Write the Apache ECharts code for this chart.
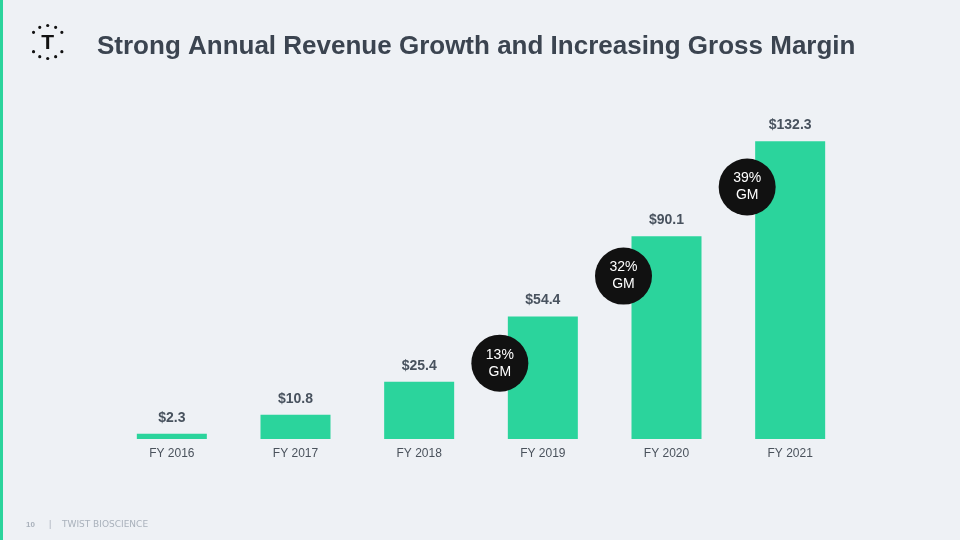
<!DOCTYPE html>
<html><head><meta charset="utf-8">
<script src="https://cdn.jsdelivr.net/npm/echarts@6/dist/echarts.min.js"></script>
<style>html,body{margin:0;padding:0;background:#eef1f5}#c{width:960px;height:540px}</style>
</head><body><div id="c"></div>
<script>
const categories = ['FY 2016','FY 2017','FY 2018','FY 2019','FY 2020','FY 2021'];
const revenue = [2.3, 10.8, 25.4, 54.4, 90.1, 132.3];
const revenueLabels = ['$2.3','$10.8','$25.4','$54.4','$90.1','$132.3'];
const gmLevel = [null, null, null, 33.7, 72.4, 112];
const gmLabels = ['', '', '', '13%\nGM', '32%\nGM', '39%\nGM'];
const titleText = 'Strong Annual Revenue Growth and Increasing Gross Margin';
const pageNumber = '10';
const footerText = 'TWIST BIOSCIENCE';

const chart = echarts.init(document.getElementById('c'));
const dots = [];
const angles = [90, 63, 36, 117, 144, 270, 243, 216, 297, 324];
angles.forEach(a => {
  const r = a * Math.PI / 180;
  dots.push({type:'circle', shape:{cx:47.7 + 17.5*Math.cos(r), cy:42 - 16.5*Math.sin(r), r:1.6}, style:{fill:'#111'}});
});
chart.setOption({
  backgroundColor:'#eef1f5',
  animation:false,
  title:{text:titleText, left:92, top:29, textStyle:{fontFamily:'Liberation Sans, Arial, sans-serif', fontSize:26, fontWeight:'bold', color:'#3b4450'}},
  grid:{left:110, right:108, top:124, bottom:101},
  xAxis:{type:'category', data:categories, axisLine:{show:false}, axisTick:{show:false},
    axisLabel:{margin:9, fontSize:12, color:'#4a525c', fontFamily:'Liberation Sans, Arial, sans-serif'}},
  yAxis:{type:'value', min:0, max:140, show:false, splitLine:{show:false}},
  series:[
    {type:'bar', data:revenue, barWidth:70, itemStyle:{color:'#2bd49c'},
      label:{show:true, position:'top', distance:9, formatter:p=>revenueLabels[p.dataIndex],
        fontSize:14, fontWeight:'bold', color:'#48525e', fontFamily:'Liberation Sans, Arial, sans-serif'}},
    {type:'scatter', data:gmLevel, symbol:'circle', symbolSize:57, symbolOffset:[-43,0],
      itemStyle:{color:'#111111', opacity:1}, z:5,
      label:{show:true, position:'inside', formatter:p=>gmLabels[p.dataIndex], fontSize:14, lineHeight:17, color:'#ffffff', fontFamily:'Liberation Sans, Arial, sans-serif'}}
  ],
  graphic:[
    {type:'rect', shape:{x:0,y:0,width:3,height:540}, style:{fill:'#2bd49c'}},
    ...dots,
    {type:'text', style:{text:'T', x:47.7, y:43.5, align:'center', verticalAlign:'middle', font:'bold 21px Liberation Sans, Arial, sans-serif', fill:'#111'}},
    {type:'text', style:{text:pageNumber, x:26, y:525, verticalAlign:'middle', font:'bold 8px Liberation Sans, Arial, sans-serif', fill:'#a9b1bb'}},
    {type:'text', style:{text:'|', x:49, y:525, verticalAlign:'middle', font:'9px Liberation Sans, Arial, sans-serif', fill:'#a9b1bb'}},
    {type:'text', style:{text:footerText, x:62, y:525, verticalAlign:'middle', font:'9px DejaVu Sans, sans-serif', fill:'#a9b1bb'}}
  ]
});
</script></body></html>
